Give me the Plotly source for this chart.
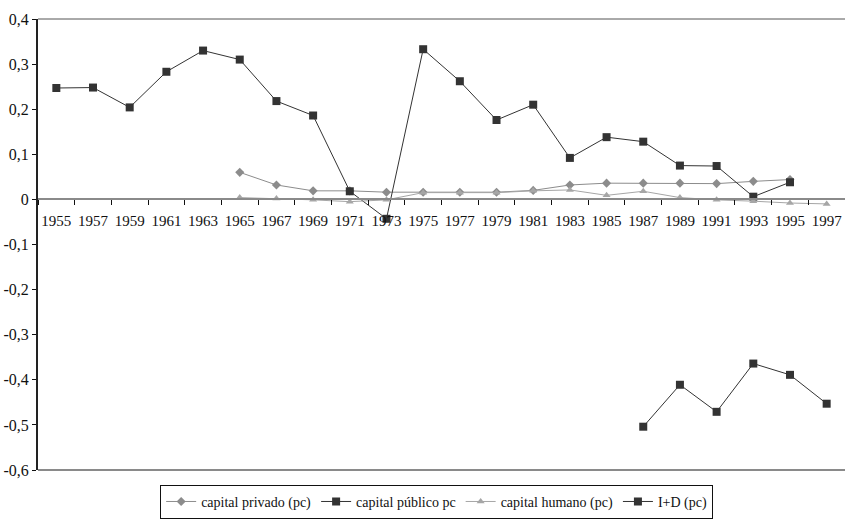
import plotly.graph_objects as go

years = [str(y) for y in range(1955, 1999, 2)]

# capital privado (pc): 1965-1995
privado_years = [str(y) for y in range(1965, 1997, 2)]
privado = [0.060, 0.032, 0.019, 0.019, 0.016, 0.016, 0.016, 0.016, 0.020, 0.032,
           0.036, 0.036, 0.036, 0.035, 0.040, 0.044]

# capital público pc: 1955-1995
publico_years = [str(y) for y in range(1955, 1997, 2)]
publico = [0.247, 0.248, 0.204, 0.283, 0.330, 0.310, 0.218, 0.186, 0.018, -0.043,
           0.333, 0.262, 0.176, 0.210, 0.092, 0.138, 0.128, 0.075, 0.074, 0.006, 0.038]

# capital humano (pc): 1965-1997
humano_years = [str(y) for y in range(1965, 1999, 2)]
humano = [0.004, 0.002, -0.001, -0.005, -0.001, 0.015, 0.015, 0.015, 0.019, 0.021,
          0.009, 0.018, 0.004, -0.001, -0.004, -0.008, -0.010]

# I+D (pc): 1987-1997
id_years = [str(y) for y in range(1987, 1999, 2)]
id_vals = [-0.504, -0.411, -0.471, -0.364, -0.389, -0.453]

y_ticks = [-0.6, -0.5, -0.4, -0.3, -0.2, -0.1, 0, 0.1, 0.2, 0.3, 0.4]
y_ticktext = ["-0,6", "-0,5", "-0,4", "-0,3", "-0,2", "-0,1", "0", "0,1", "0,2", "0,3", "0,4"]

FONT = "Liberation Serif, Times New Roman, serif"

fig = go.Figure()
fig.add_trace(go.Scatter(x=privado_years, y=privado, name="capital privado (pc)",
                         mode="lines+markers",
                         line=dict(color="#8c8c8c", width=1),
                         marker=dict(symbol="diamond", size=7, color="#8c8c8c")))
fig.add_trace(go.Scatter(x=publico_years, y=publico, name="capital público pc",
                         mode="lines+markers",
                         line=dict(color="#333333", width=1),
                         marker=dict(symbol="square", size=8, color="#333333")))
fig.add_trace(go.Scatter(x=humano_years, y=humano, name="capital humano (pc)",
                         mode="lines+markers",
                         line=dict(color="#a6a6a6", width=1),
                         marker=dict(symbol="triangle-up", size=7, color="#a6a6a6")))
fig.add_trace(go.Scatter(x=id_years, y=id_vals, name="I+D (pc)",
                         mode="lines+markers",
                         line=dict(color="#333333", width=1),
                         marker=dict(symbol="square", size=8, color="#333333")))

fig.update_layout(
    width=845, height=523,
    margin=dict(l=38, r=0, t=19, b=53, autoexpand=False),
    paper_bgcolor="white", plot_bgcolor="white",
    font=dict(family=FONT, size=15, color="#111111"),
    showlegend=True,
    legend=dict(orientation="h", x=0.494, xanchor="center", y=-0.033, yanchor="top",
                bordercolor="#111111", borderwidth=1, font=dict(size=14),
                itemwidth=30, tracegroupgap=0),
    xaxis=dict(type="category", categoryorder="array", categoryarray=years,
               range=[-0.5, len(years) - 0.5], automargin=False,
               anchor="free", position=0.6,
               showline=True, linecolor="#8a8a8a", linewidth=2,
               ticks="outside", tickson="boundaries", ticklen=5, tickcolor="#111111",
               showgrid=False, zeroline=False, tickangle=0,
               ticklabeloverflow="allow", ticklabelstandoff=8,
               tickfont=dict(family=FONT, size=15)),
    yaxis=dict(range=[-0.6, 0.4], tickvals=y_ticks, ticktext=y_ticktext,
               automargin=False,
               showline=True, linecolor="#222222", linewidth=2,
               ticks="outside", ticklen=4, tickcolor="#111111",
               showgrid=False, zeroline=False, tickfont=dict(family=FONT, size=16)),
    shapes=[
        dict(type="line", xref="paper", yref="paper", x0=0, x1=1, y0=1, y1=1,
             line=dict(color="#555555", width=1)),
        dict(type="line", xref="paper", yref="paper", x0=0, x1=1, y0=0, y1=0,
             line=dict(color="#8a8a8a", width=2)),
    ],
)

fig.write_html("out.html",
               config={"displayModeBar": False},
               post_script="document.body.style.margin='0';document.body.style.overflow='hidden';")
